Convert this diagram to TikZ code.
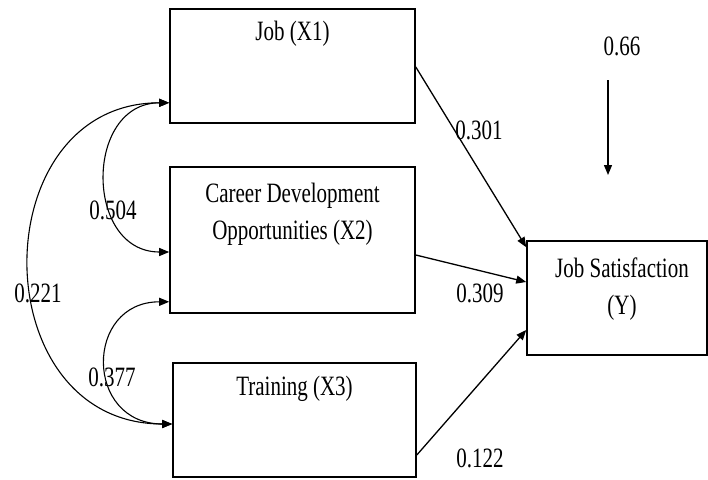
\documentclass[tikz,border=0pt]{standalone}
\usepackage{fontspec}
\setmainfont{Liberation Serif}[FakeStretch=0.75]
\usepackage{tikz}
\usetikzlibrary{arrows.meta}

\begin{document}
\begin{tikzpicture}[x=1pt, y=-1pt,
    font=\fontsize{28}{37}\selectfont,
    boxstyle/.style={draw, line width=1.6pt, rectangle, inner sep=0pt},
    pathstyle/.style={-{Triangle[length=10pt,width=8pt]}, line width=1.3pt},
    corrstyle/.style={{Triangle[length=10pt,width=8pt]}-{Triangle[length=10pt,width=8pt]}, line width=1.1pt},
    coefstyle/.style={inner sep=1pt}]
  \useasboundingbox (0,0) rectangle (708,479);
  % latent boxes
  \node[boxstyle, minimum width=245pt, minimum height=114pt] (x1) at (292.5,66) {};
  \node[boxstyle, minimum width=245pt, minimum height=146pt] (x2) at (292.5,240) {};
  \node[boxstyle, minimum width=243pt, minimum height=114pt] (x3) at (294.5,420) {};
  \node[boxstyle, minimum width=180pt, minimum height=114pt] (ys) at (617,298) {};
  % box texts
  \node (tx1) at ([yshift=-26pt]x1.north) {Job (X1)};
  \node[align=center] (tx2) at ([yshift=-48pt]x2.north) {Career Development\\Opportunities (X2)};
  \node (tx3) at ([yshift=-27pt]x3.north) {Training (X3)};
  \node[align=center] (tys) at (622,289) {Job Satisfaction\\(Y)};
  % paths to Y
  \draw[pathstyle] ([yshift=-1pt]x1.east) -- ([yshift=-7pt]ys.north west);
  \draw[pathstyle] ([yshift=-15pt]x2.east) -- ([yshift=16pt]ys.west);
  \draw[pathstyle] ([yshift=-35pt]x3.east) -- ([yshift=-32pt]ys.west);
  % error term
  \node[coefstyle] (err) at (622,46) {0.66};
  \coordinate (errtop) at (608,80);
  \coordinate (errtip) at (608,175);
  \draw[pathstyle] (errtop) -- (errtip);
  % correlations
  \draw[corrstyle] ([yshift=21pt]x1.south west) .. controls +(-85,0) and +(-85,0) .. ([yshift=-12pt]x2.west);
  \draw[corrstyle] ([yshift=21pt]x1.south west) .. controls +(-187,0) and +(-190,0) .. ([yshift=-4pt]x3.west);
  \draw[corrstyle] ([yshift=12pt]x2.south west) .. controls +(-85,0) and +(-88,0) .. ([yshift=-4pt]x3.west);
  % coefficients
  \node[coefstyle] (c504) at (113,210) {0.504};
  \node[coefstyle] (c221) at (38,293) {0.221};
  \node[coefstyle] (c377) at (112,377) {0.377};
  \node[coefstyle] (c301) at (479,130) {0.301};
  \node[coefstyle] (c309) at (480,293) {0.309};
  \node[coefstyle] (c122) at (480,458) {0.122};
\end{tikzpicture}
\end{document}
